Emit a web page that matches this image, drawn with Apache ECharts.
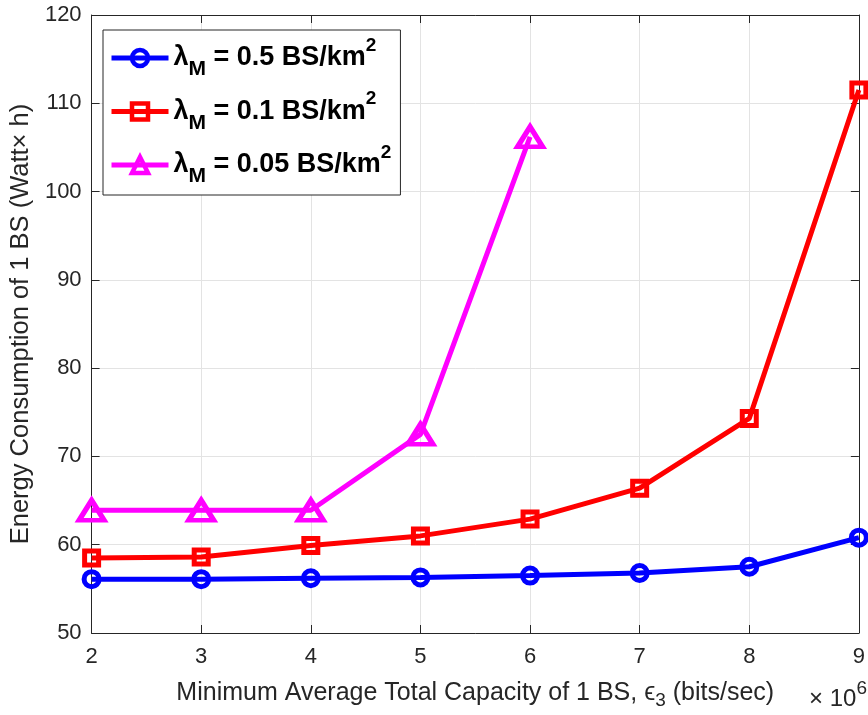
<!DOCTYPE html>
<html>
<head>
<meta charset="utf-8">
<script src="https://cdn.jsdelivr.net/npm/echarts@6/dist/echarts.min.js"></script>
<style>html,body{margin:0;padding:0;background:#fff}#c{width:868px;height:715px}</style>
</head>
<body>
<div id="c"></div>
<script>
const xValues = [2, 3, 4, 5, 6, 7, 8, 9];
const blueValues = [56.1, 56.1, 56.2, 56.3, 56.5, 56.8, 57.5, 60.8];
const redValues = [58.5, 58.6, 59.9, 61.0, 62.9, 66.4, 74.3, 111.5];
const magentaValues = [63.9, 63.9, 63.9, 72.5, 106.2];
const seriesNames = ['0.5', '0.1', '0.05'];
const xTicks = [2, 3, 4, 5, 6, 7, 8, 9];
const yTicks = [50, 60, 70, 80, 90, 100, 110, 120];

const FONT = "'Liberation Sans', Helvetica, Arial, sans-serif";
const AX = '#262626';

function pairs(xs, ys) { return ys.map((v, i) => [xs[i], v]); }

const chart = echarts.init(document.getElementById('c'), null, {renderer: 'canvas'});

function mkSeries(name, data, color, symbol, size) {
  return {
    name: name, type: 'line', data: data,
    xAxisIndex: 0, yAxisIndex: 0,
    symbol: symbol, symbolSize: size, showAllSymbol: true,
    lineStyle: {color: color, width: 5},
    itemStyle: {color: 'rgba(0,0,0,0)', borderColor: color, borderWidth: 5},
    emphasis: {disabled: true},
    z: 3
  };
}

const option = {
  animation: false,
  backgroundColor: '#fff',
  grid: {left: 89, right: 6, top: 15, bottom: 80, show: false},
  legend: {
    left: 103, top: 30,
    orient: 'vertical',
    backgroundColor: '#fff',
    borderColor: AX, borderWidth: 1,
    padding: [6, 9, 8, 6],
    itemWidth: 57, itemHeight: 20, itemGap: 9.5,
    selectedMode: false,
    data: seriesNames,
    lineStyle: {width: 5},
    itemStyle: {borderWidth: 4.5, color: 'rgba(0,0,0,0)'},
    formatter: function (n) { return '{a|λ}{b|M}{c| = ' + n + ' BS/km}{d|2}'; },
    textStyle: {
      color: '#000', fontFamily: FONT, fontWeight: 'bold',
      rich: {
        a: {fontSize: 27, fontWeight: 'bold', fontFamily: FONT, lineHeight: 44, verticalAlign: 'middle', color: '#000'},
        b: {fontSize: 21, fontWeight: 'bold', fontFamily: FONT, lineHeight: 20, verticalAlign: 'bottom', color: '#000'},
        c: {fontSize: 27, fontWeight: 'bold', fontFamily: FONT, lineHeight: 44, verticalAlign: 'middle', color: '#000'},
        d: {fontSize: 19, fontWeight: 'bold', fontFamily: FONT, lineHeight: 28, verticalAlign: 'top', color: '#000'}
      }
    }
  },
  xAxis: [{
    type: 'value', min: xTicks[0], max: xTicks[xTicks.length - 1], interval: 1,
    position: 'bottom',
    axisLine: {show: true, onZero: false, lineStyle: {color: AX, width: 1}},
    axisTick: {show: true, inside: true, length: 8, lineStyle: {color: AX}},
    axisLabel: {color: AX, fontSize: 22, fontFamily: FONT, margin: 13},
    splitLine: {show: true, lineStyle: {color: '#e3e3e3', width: 1}},
    name: '{a|Minimum Average Total Capacity of 1 BS, ϵ}{b|3}{a| (bits/sec)}',
    nameLocation: 'middle', nameGap: 43,
    nameTextStyle: {
      color: AX, fontFamily: FONT, fontSize: 25,
      rich: {
        a: {fontSize: 25, fontFamily: FONT, color: AX, lineHeight: 34, verticalAlign: 'middle'},
        b: {fontSize: 19, fontFamily: FONT, color: AX, lineHeight: 18, verticalAlign: 'bottom'}
      }
    }
  }, {
    type: 'value', min: xTicks[0], max: xTicks[xTicks.length - 1], interval: 1,
    position: 'top',
    axisLine: {show: true, onZero: false, lineStyle: {color: AX, width: 1}},
    axisTick: {show: true, inside: true, length: 8, lineStyle: {color: AX}},
    axisLabel: {show: false}, splitLine: {show: false}
  }],
  yAxis: [{
    type: 'value', min: yTicks[0], max: yTicks[yTicks.length - 1], interval: 10,
    position: 'left',
    axisLine: {show: true, onZero: false, lineStyle: {color: AX, width: 1}},
    axisTick: {show: true, inside: true, length: 8, lineStyle: {color: AX}},
    axisLabel: {color: AX, fontSize: 22, fontFamily: FONT, margin: 10},
    splitLine: {show: true, lineStyle: {color: '#e3e3e3', width: 1}},
    name: 'Energy Consumption of 1 BS (Watt× h)',
    nameLocation: 'middle', nameGap: 42, nameRotate: 90,
    nameTextStyle: {color: AX, fontFamily: FONT, fontSize: 25.5}
  }, {
    type: 'value', min: yTicks[0], max: yTicks[yTicks.length - 1], interval: 10,
    position: 'right',
    axisLine: {show: true, onZero: false, lineStyle: {color: AX, width: 1}},
    axisTick: {show: true, inside: true, length: 8, lineStyle: {color: AX}},
    axisLabel: {show: false}, splitLine: {show: false}
  }],
  graphic: [{
    type: 'text', right: 1, top: 679,
    style: {
      text: '{a|× 10}{b|6}',
      fontFamily: FONT,
      rich: {
        a: {fontSize: 24, fontFamily: FONT, fill: AX, color: AX, lineHeight: 32, verticalAlign: 'bottom'},
        b: {fontSize: 19, fontFamily: FONT, fill: AX, color: AX, lineHeight: 24, verticalAlign: 'top'}
      }
    }
  }],
  series: [
    mkSeries(seriesNames[0], pairs(xValues, blueValues), '#0000ff', 'circle', 15),
    mkSeries(seriesNames[1], pairs(xValues, redValues), '#ff0000', 'rect', 14),
    mkSeries(seriesNames[2], pairs(xValues, magentaValues), '#ff00ff', 'triangle', [25, 20])
  ]
};
chart.setOption(option);
</script>
</body>
</html>
